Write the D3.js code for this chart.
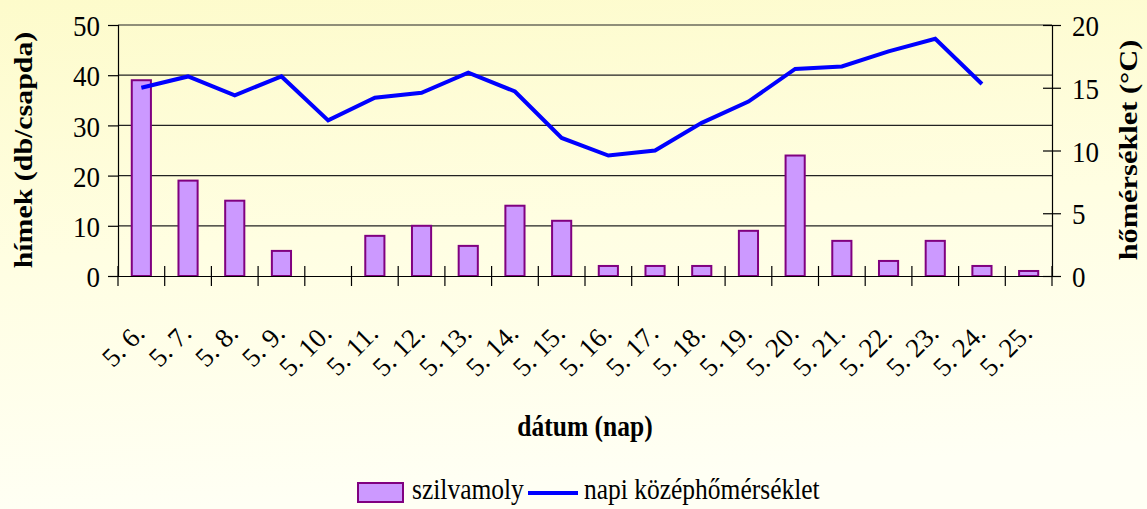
<!DOCTYPE html>
<html>
<head>
<meta charset="utf-8">
<script src="https://cdn.jsdelivr.net/npm/d3@7"></script>
</head>
<body style="margin:0">
<div id="chart"></div>
<script>
var days = ["5. 6.", "5. 7.", "5. 8.", "5. 9.", "5. 10.", "5. 11.", "5. 12.", "5. 13.", "5. 14.", "5. 15.",
            "5. 16.", "5. 17.", "5. 18.", "5. 19.", "5. 20.", "5. 21.", "5. 22.", "5. 23.", "5. 24.", "5. 25."];
var catches = [39, 19, 15, 5, 0, 8, 10, 6, 14, 11, 2, 2, 2, 9, 24, 7, 3, 7, 2, 1];
var temps = [15.0, 15.9, 14.4, 15.9, 12.4, 14.2, 14.6, 16.2, 14.7, 11.0,
             9.6, 10.0, 12.2, 13.9, 16.5, 16.7, 17.9, 18.9, 15.3, null];
var leftTicks = [0, 10, 20, 30, 40, 50];
var rightTicks = [0, 5, 10, 15, 20];

var FONT = "Liberation Serif";

var W = 1147, H = 509;
var margin = {left: 118, top: 25, right: 95, bottom: 233};
var width = W - margin.left - margin.right,
    height = H - margin.top - margin.bottom;

// every text gets its font inline
function serif(sel, size, bold) {
    return sel.style("font-family", FONT)
        .style("font-size", size + "px")
        .style("font-weight", bold ? "bold" : "normal")
        .attr("fill", "#000");
}

var svg = d3.select("#chart").append("svg")
    .attr("width", W)
    .attr("height", H);

var defs = svg.append("defs");
var grad = defs.append("linearGradient")
    .attr("id", "bg")
    .attr("x1", "0").attr("y1", "0").attr("x2", "0.15").attr("y2", "1");
grad.append("stop").attr("offset", "0").attr("stop-color", "#fdfbcb");
grad.append("stop").attr("offset", "0.5").attr("stop-color", "#fffee2");
grad.append("stop").attr("offset", "1").attr("stop-color", "#fffff4");

svg.append("rect").attr("width", W).attr("height", H).attr("fill", "url(#bg)");

var g = svg.append("g")
    .attr("transform", "translate(" + margin.left + "," + margin.top + ")");

var x = d3.scaleBand().domain(days).range([0, width]).paddingInner(0).paddingOuter(0);
var y = d3.scaleLinear().domain([0, 50]).range([height, 0]);
var y2 = d3.scaleLinear().domain([0, 20]).range([height, 0]);

// gridlines
g.append("g")
    .selectAll("line")
    .data(leftTicks.slice(1))
    .enter().append("line")
    .attr("x1", 0).attr("x2", width)
    .attr("y1", function(d) { return y(d); })
    .attr("y2", function(d) { return y(d); })
    .attr("stroke", "#222")
    .attr("stroke-width", 1.2);

// bars
var barW = x.bandwidth() * 0.41;
g.append("g")
    .selectAll("rect")
    .data(catches)
    .enter().append("rect")
    .attr("x", function(d, i) { return x(days[i]) + (x.bandwidth() - barW) / 2; })
    .attr("y", function(d) { return y(d); })
    .attr("width", barW)
    .attr("height", function(d) { return height - y(d); })
    .attr("fill", "#cc99ff")
    .attr("stroke", "#800080")
    .attr("stroke-width", 2)
    .style("display", function(d) { return d > 0 ? null : "none"; });

// temperature line
var line = d3.line()
    .defined(function(d) { return d != null; })
    .x(function(d, i) { return x(days[i]) + x.bandwidth() / 2; })
    .y(function(d) { return y2(d); });

g.append("path")
    .datum(temps)
    .attr("d", line)
    .attr("fill", "none")
    .attr("stroke", "#0000ff")
    .attr("stroke-width", 4)
    .attr("stroke-linejoin", "miter");

// left axis
var yAxis = g.append("g")
    .call(d3.axisLeft(y).tickValues(leftTicks).tickSize(10).tickPadding(8));
yAxis.select(".domain").attr("stroke", "#000").attr("stroke-width", 1.2);
yAxis.selectAll(".tick line").attr("stroke", "#000").attr("stroke-width", 1.2);
serif(yAxis.selectAll("text"), 27).attr("dy", "0.36em")
    .attr("transform", "scale(1,1.1)").attr("y", 0);

// right axis
var y2Axis = g.append("g")
    .attr("transform", "translate(" + width + ",0)")
    .call(d3.axisRight(y2).tickValues(rightTicks).tickSize(9).tickPadding(11));
y2Axis.select(".domain").attr("stroke", "#000").attr("stroke-width", 1.2);
y2Axis.selectAll(".tick line").attr("stroke", "#000").attr("stroke-width", 1.2).attr("x1", -9);
serif(y2Axis.selectAll("text"), 27).attr("dy", "0.36em")
    .attr("transform", "scale(1,1.1)");

// bottom axis
var xAxis = g.append("g")
    .attr("transform", "translate(0," + height + ")")
    .call(d3.axisBottom(x).tickSize(0).tickFormat(""));
xAxis.select(".domain").attr("stroke", "#000").attr("stroke-width", 1.2);

var xTickPos = d3.range(days.length + 1).map(function(i) { return i * x.bandwidth(); });
xAxis.append("g")
    .selectAll("line")
    .data(xTickPos)
    .enter().append("line")
    .attr("x1", function(d) { return d; })
    .attr("x2", function(d) { return d; })
    .attr("y1", -10).attr("y2", 10)
    .attr("stroke", "#000")
    .attr("stroke-width", 1.2);

serif(xAxis.append("g")
    .selectAll("text")
    .data(days)
    .enter().append("text")
    .attr("text-anchor", "end")
    .attr("transform", function(d) {
        return "translate(" + (x(d) + x.bandwidth() / 2 + 5) + ",59) rotate(-45)";
    }), 27)
    .text(function(d) { return d; });

// axis titles
serif(svg.append("text")
    .attr("transform", "translate(585,436) scale(1,1.12)")
    .attr("text-anchor", "middle"), 25.5, true)
    .text("dátum (nap)");

serif(svg.append("text")
    .attr("transform", "translate(32,150) rotate(-90) scale(1.15,1)")
    .attr("text-anchor", "middle"), 26, true)
    .text("hímek (db/csapda)");

serif(svg.append("text")
    .attr("transform", "translate(1137,150) rotate(-90) scale(1.17,1)")
    .attr("text-anchor", "middle"), 26, true)
    .text("hőmérséklet (°C)");

// legend
var legend = svg.append("g");
legend.append("rect")
    .attr("x", 358).attr("y", 483)
    .attr("width", 45).attr("height", 19)
    .attr("fill", "#cc99ff")
    .attr("stroke", "#800080")
    .attr("stroke-width", 2);
serif(legend.append("text")
    .attr("transform", "translate(412,499) scale(1,1.12)"), 25.5)
    .text("szilvamoly");
legend.append("line")
    .attr("x1", 528).attr("x2", 578)
    .attr("y1", 493).attr("y2", 493)
    .attr("stroke", "#0000ff")
    .attr("stroke-width", 4);
serif(legend.append("text")
    .attr("transform", "translate(584,499) scale(1,1.12)"), 25.5)
    .text("napi középhőmérséklet");
</script>
</body>
</html>
